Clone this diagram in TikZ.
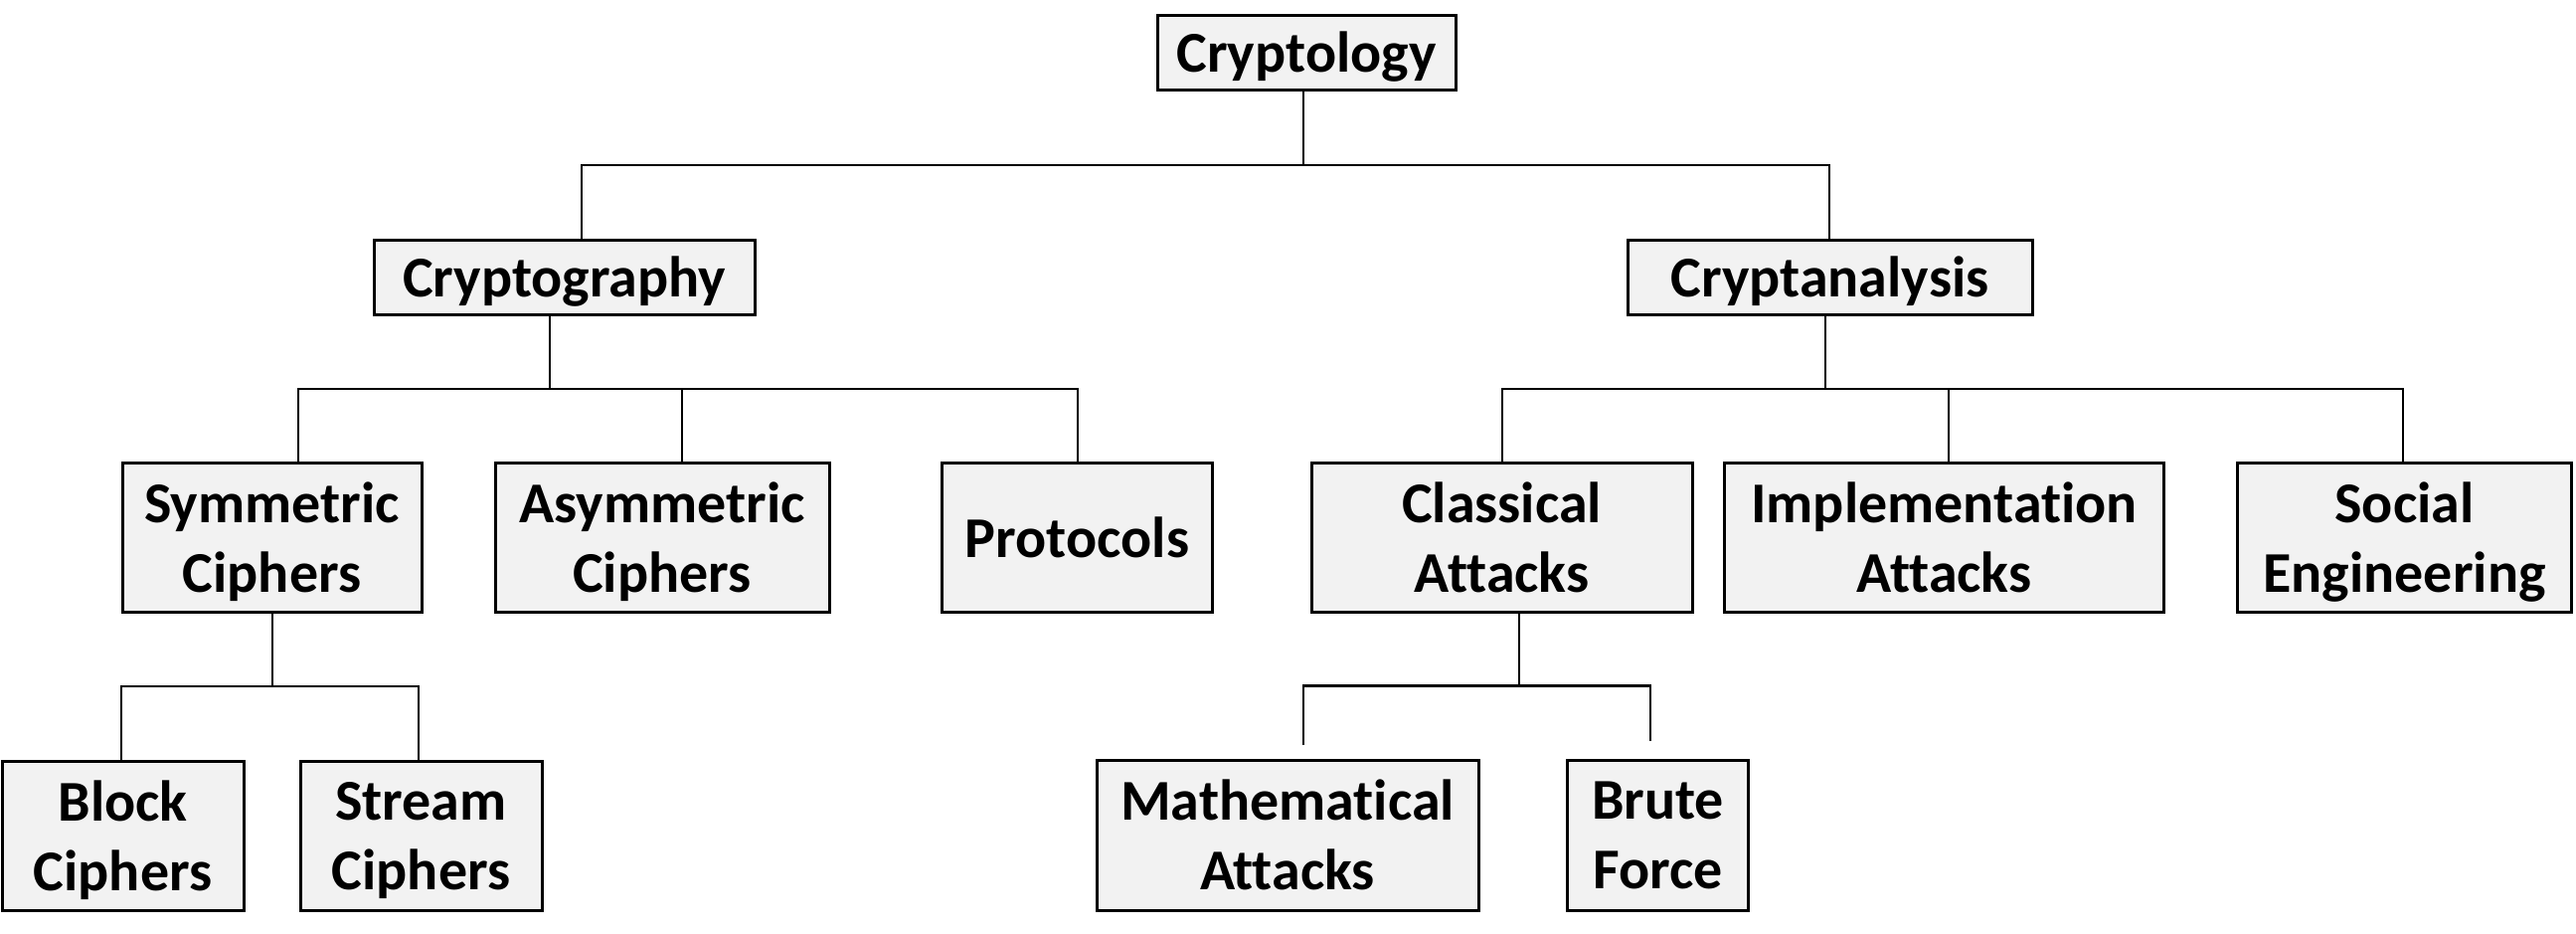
\documentclass[tikz,border=0pt]{standalone}
\usepackage{fontspec}
\setmainfont{Carlito}[RawFeature={-liga,-clig}]
\definecolor{boxfill}{HTML}{F2F2F2}
\begin{document}
\begin{tikzpicture}[
  x=0.5pt, y=-0.5pt,
  box/.style={draw=black, fill=boxfill, line width=1.5pt, inner sep=0pt,
    align=center, text depth=0pt,
    font=\bfseries\fontsize{29}{35}\selectfont},
  wd/.style={minimum width=#1*0.5pt},
  ht/.style={minimum height=#1*0.5pt},
  link/.style={draw=black, line width=1.4pt}
]
\useasboundingbox (0,0) rectangle (2591,938);

% level 0
\node[box, wd=300, ht=75] (top) at (1314,52.5) {Cryptology};

% level 1
\node[box, wd=383, ht=75] (cgraphy) at (567.5,278.5) {Cryptography};
\node[box, wd=407, ht=75] (cana) at (1840.5,278.5) {Cryptanalysis};

% level 2
\node[box, wd=301, ht=150] (sym) at (273.5,540) {Symmetric\\Ciphers};
\node[box, wd=336, ht=150] (asym) at (666,540) {Asymmetric\\Ciphers};
\node[box, wd=272, ht=150] (proto) at (1083.5,540) {Protocols};
\node[box, wd=383, ht=150] (classic) at (1510.5,540) {Classical\\Attacks};
\node[box, wd=442, ht=150] (impl) at (1955.5,540) {Implementation\\Attacks};
\node[box, wd=336, ht=150] (social) at (2418.5,540) {Social\\Engineering};

% level 3
\node[box, wd=243, ht=150] (block) at (123.5,840) {Block\\Ciphers};
\node[box, wd=243, ht=150] (stream) at (423.5,840) {Stream\\Ciphers};
\node[box, wd=384, ht=151] (math) at (1295,839.5) {Mathematical\\Attacks};
\node[box, wd=182, ht=151] (brute) at (1667.5,839.5) {Brute\\Force};

% bus junctions and leg positions
\coordinate (j0) at (1311,166);
\coordinate (a1) at (585,166);
\coordinate (a2) at (1840,166);

\coordinate (j1) at (553,391);
\coordinate (b1) at (300,391);
\coordinate (b2) at (686,391);
\coordinate (b3) at (1084,391);

\coordinate (j2) at (1836,391);
\coordinate (c1) at (1511,391);
\coordinate (c2) at (1960,391);
\coordinate (c3) at (2417,391);

\coordinate (j3) at (274,690);
\coordinate (d1) at (122,690);
\coordinate (d2) at (421,690);

\coordinate (j4) at (1528,689.5);
\coordinate (e1) at (1311,689.5);
\coordinate (e2) at (1660,689.5);
\coordinate (e1end) at (1311,749);
\coordinate (e2end) at (1660,745);

% Cryptology
\draw[link] (j0 |- top.south) -- (j0);
\draw[link] (cgraphy.north -| a1) -- (a1) -- (a2) -- (cana.north -| a2);

% Cryptography
\draw[link] (j1 |- cgraphy.south) -- (j1);
\draw[link] (sym.north -| b1) -- (b1) -- (b3) -- (proto.north -| b3);
\draw[link] (b2) -- (asym.north -| b2);

% Cryptanalysis
\draw[link] (j2 |- cana.south) -- (j2);
\draw[link] (classic.north -| c1) -- (c1) -- (c3) -- (social.north -| c3);
\draw[link] (c2) -- (impl.north -| c2);

% Symmetric ciphers
\draw[link] (j3 |- sym.south) -- (j3);
\draw[link] (block.north -| d1) -- (d1) -- (d2) -- (stream.north -| d2);

% Classical attacks
\draw[link] (j4 |- classic.south) -- (j4);
\draw[link] (e1end) -- (e1) -- (e2) -- (e2end);
\end{tikzpicture}
\end{document}
